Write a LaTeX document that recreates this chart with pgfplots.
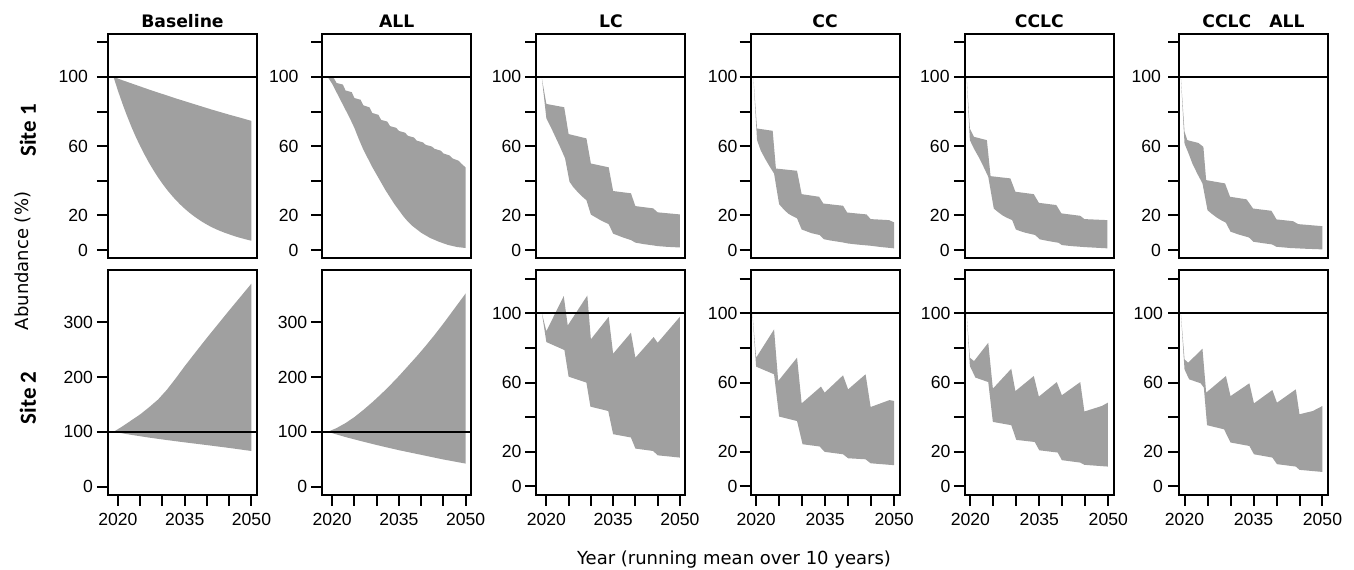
\documentclass[border=0pt]{standalone}
\usepackage{fontspec}
\setmainfont{Liberation Sans}
\newfontfamily\dejavu{DejaVu Sans}
\newfontfamily\carlito{Carlito}
\usepackage{pgfplots}
\pgfplotsset{compat=1.18}
\usepgfplotslibrary{groupplots,fillbetween}
\definecolor{band}{RGB}{160,160,160}

\pgfplotsset{
  panel/.style={
    scale only axis, width=74.5pt, height=112.2pt,
    axis line style={line width=1pt},
    tick style={black, line width=1pt},
    tick align=outside, major tick length=5.5pt,
    xtick pos=bottom, ytick pos=left,
    tick label style={font=\fontsize{8.8}{10}\selectfont},
    xtick={2020,2025,...,2050}, xticklabels={2020,,,2035,,,2050},
    ymin=-4.8, ymax=124.8,
    ytick={0,20,...,120}, yticklabels={0,20,,60,,100,},
    title style={font=\dejavu\bfseries\fontsize{8.6}{10}\selectfont,
      at={(0.5,1)}, anchor=base, yshift=-3pt, inner sep=0pt},
  },
  xa/.style={xmin=2017.76, xmax=2051.24},
  xb/.style={xmin=2018.8, xmax=2051.2},
  big/.style={ymin=-15, ymax=395, ytick={0,100,200,300}, yticklabels={0,100,200,300}},
  ylab/.style={yticklabel style={xshift=#1}},
  env/.style={draw=none, forget plot},
  hundred/.style={black, line width=1pt, forget plot},
}

\begin{document}
\begin{tikzpicture}
\begin{groupplot}[group style={group size=6 by 2, horizontal sep=32.6pt,
    vertical sep=6pt, group name=group}, panel]

% ---- Site 1 ----
\nextgroupplot[xa, title={Baseline}, xtick=\empty, ylab=-1pt]
\addplot[env, name path=u1] coordinates {(2019,100) (2021,98.1) (2023,96.3) (2025,94.5) (2027,92.7) (2029,91.0) (2031,89.3) (2033,87.6) (2035,86.0) (2037,84.4) (2039,82.8) (2041,81.2) (2043,79.7) (2045,78.2) (2047,76.8) (2050,74.6)};
\addplot[env, name path=l1] coordinates {(2019,100) (2020,92) (2021,84.6) (2022,77.7) (2023,71.3) (2024,65.4) (2025,60) (2026,55) (2027,50.3) (2028,46) (2029,42) (2030,38.3) (2031,34.9) (2032,31.8) (2033,28.9) (2034,26.3) (2035,23.9) (2036,21.7) (2037,19.7) (2038,17.9) (2039,16.2) (2040,14.7) (2041,13.3) (2042,12.1) (2043,11) (2044,10) (2045,9.1) (2046,8.2) (2047,7.4) (2048,6.7) (2049,6) (2050,5.4)};
\addplot[band] fill between[of=u1 and l1];
\addplot[hundred] coordinates {(2010,100) (2060,100)};

\nextgroupplot[xa, title={ALL}, xtick=\empty, ylab=-2.8pt]
\addplot[env, name path=u2] coordinates {(2019,100) (2020.4,99.2) (2021,96.5) (2022.4,95.6) (2023,92.2) (2024.4,91.2) (2025,87.8) (2026.4,86.8) (2027,83.6) (2028.4,82.4) (2029,79.2) (2030.4,78.1) (2031,75.2) (2032.4,74.2) (2033,71.6) (2034.4,70.6) (2035,68.8) (2036.4,67.8) (2037,66) (2038.4,65) (2039,63.2) (2040.4,62.2) (2041,60.8) (2042.4,59.8) (2043,58.5) (2044.4,57.4) (2045,55.8) (2046.4,54.6) (2047,53) (2048.4,51.6) (2049,50) (2050,47.7)};
\addplot[env, name path=l2] coordinates {(2019,100) (2020,96) (2021,91) (2022,86) (2023,81) (2024,76) (2025,70.5) (2026,64) (2027,58) (2028,53) (2029,48) (2030,43.5) (2031,39) (2032,34.5) (2033,30.5) (2034,26.5) (2035,23) (2036,19.5) (2037,16.5) (2038,14) (2039,12) (2040,10) (2041,8.5) (2042,7) (2044,4.8) (2046,3.0) (2048,1.8) (2050,1.2)};
\addplot[band] fill between[of=u2 and l2];
\addplot[hundred] coordinates {(2010,100) (2060,100)};

\nextgroupplot[xa, title={LC}, xtick=\empty, ylab=1.4pt]
\addplot[env, name path=u3] coordinates {(2019,99) (2020,84.4) (2024,82.5) (2025,67) (2029,64.5) (2030,50) (2034,47.8) (2035,34.1) (2039,32.8) (2040,25.4) (2044,24.1) (2045,21.8) (2050,20.6)};
\addplot[env, name path=l3] coordinates {(2019,99) (2020,76) (2021,71) (2022,65.5) (2023,60) (2024.2,53) (2025.2,39.5) (2026,36.5) (2027,33.6) (2028,31) (2029,28.8) (2030,20.5) (2031,19) (2032,17.5) (2033,16.2) (2034,15) (2035,9.5) (2036,8.5) (2037,7.5) (2038,6.6) (2039,5.8) (2040,4.3) (2042,3.4) (2044,2.7) (2045,2.3) (2047,1.9) (2050,1.5)};
\addplot[band] fill between[of=u3 and l3];
\addplot[hundred] coordinates {(2010,100) (2060,100)};

\nextgroupplot[xb, title={CC}, xtick=\empty, ylab=2.4pt]
\addplot[env, name path=u4] coordinates {(2019.4,100) (2020.2,70.2) (2023.6,68.9) (2024.3,47.1) (2028.9,45.8) (2029.9,32.3) (2033.7,30.8) (2034.6,26.9) (2038.9,25.6) (2039.8,21.7) (2044,20.6) (2044.9,17.9) (2048.9,17.3) (2050,16)};
\addplot[env, name path=l4] coordinates {(2019.4,100) (2020.2,63.5) (2021,57.5) (2022,52.5) (2023,48) (2023.9,44.2) (2025,26.5) (2026,23.5) (2027,21) (2028,19.5) (2028.9,18.3) (2029.9,11.9) (2031,10.8) (2032,9.8) (2033.8,8.7) (2034.7,6.3) (2036,5.6) (2038.9,4.4) (2040,3.8) (2042,3.2) (2044.9,2.5) (2047,1.8) (2050,1)};
\addplot[band] fill between[of=u4 and l4];
\addplot[hundred] coordinates {(2010,100) (2060,100)};

\nextgroupplot[xb, title={CCLC}, xtick=\empty, ylab=1.4pt]
\addplot[env, name path=u5] coordinates {(2019.2,100) (2019.9,70.2) (2020.8,65.4) (2023.6,63.5) (2024.4,42.7) (2028.7,41.4) (2029.8,33.7) (2033.8,32.3) (2034.9,27.3) (2038.7,26) (2039.8,21.2) (2043.9,19.8) (2044.8,17.9) (2049.8,17.3)};
\addplot[env, name path=l5] coordinates {(2019.2,100) (2019.9,63.5) (2020.8,58.5) (2021.8,53.8) (2022.8,48.5) (2023.9,42.3) (2025.1,24) (2026,22) (2027,20) (2028,18.6) (2029.1,17.3) (2029.9,11.9) (2031,10.8) (2032,10) (2034.1,8.7) (2035.1,6.2) (2037,5.2) (2039.2,4.2) (2039.9,2.9) (2042,2.3) (2045,1.7) (2049.8,1)};
\addplot[band] fill between[of=u5 and l5];
\addplot[hundred] coordinates {(2010,100) (2060,100)};

\nextgroupplot[xb, title={CCLC\hspace{9pt}ALL}, xtick=\empty]
\addplot[env, name path=u6] coordinates {(2019.2,100) (2020,68.3) (2020.6,63.5) (2023,61.9) (2024.1,59.6) (2024.7,40.4) (2028.8,38.5) (2029.9,30.8) (2033.5,29.3) (2034.9,24) (2038.9,22.7) (2040,17.7) (2043.6,16.7) (2044.7,15) (2050,13.8)};
\addplot[env, name path=l6] coordinates {(2019.2,100) (2020,61.5) (2021,55) (2021.7,50) (2022.8,44) (2023.9,38.5) (2025,23) (2026,20.8) (2027,18.8) (2028,17.2) (2029,15.8) (2030,10.6) (2031,9.7) (2032,8.8) (2034,7.3) (2035,4.8) (2037,4) (2039,3.3) (2040,1.9) (2043,1.2) (2046,0.8) (2050,0.4)};
\addplot[band] fill between[of=u6 and l6];
\addplot[hundred] coordinates {(2010,100) (2060,100)};

% ---- Site 2 ----
\nextgroupplot[xa, big, ylab=1.5pt]
\addplot[env, name path=u7] coordinates {(2019,100) (2021,110) (2023,121) (2025,132) (2027,145) (2029,159) (2031,177) (2033,198) (2035,220) (2037,241) (2040,272) (2045,322) (2050,371)};
\addplot[env, name path=l7] coordinates {(2019,100) (2023,94.5) (2027,89.5) (2031,85) (2035,80.8) (2040,75.8) (2045,70.6) (2050,65)};
\addplot[band] fill between[of=u7 and l7];
\addplot[hundred] coordinates {(2010,100) (2060,100)};

\nextgroupplot[xa, big, ylab=1.5pt]
\addplot[env, name path=u8] coordinates {(2019,100) (2021,107) (2023,116) (2025,127) (2027,140) (2029,154) (2031,169) (2033,185) (2035,202) (2037,220) (2039,238) (2041,257) (2043,277) (2045,298) (2047,320) (2050,353)};
\addplot[env, name path=l8] coordinates {(2019,100) (2023,90.5) (2027,82) (2031,74) (2035,66.5) (2040,58) (2045,49.5) (2050,42)};
\addplot[band] fill between[of=u8 and l8];
\addplot[hundred] coordinates {(2010,100) (2060,100)};

\nextgroupplot[xa, ylab=1.6pt]
\addplot[env, name path=u9] coordinates {(2019,100) (2020,89.7) (2023.9,110) (2024.8,93) (2029.2,110.3) (2030,85) (2034,98) (2035,76.7) (2039,88.8) (2040,74.4) (2044.1,86.3) (2045,83) (2050,98)};
\addplot[env, name path=l9] coordinates {(2019,100) (2020,83.4) (2024.05,78.8) (2025,63.4) (2029,60) (2029.9,46.1) (2033.9,43.6) (2035,30.2) (2039,28.3) (2040,21.9) (2044,20.5) (2045,18) (2050,16.7)};
\addplot[band] fill between[of=u9 and l9];
\addplot[hundred] coordinates {(2010,100) (2060,100)};

\nextgroupplot[xb, ylab=2.4pt]
\addplot[env, name path=u10] coordinates {(2019.2,100) (2020,74.4) (2023.9,90.7) (2024.8,60.9) (2028.9,74.4) (2029.9,48) (2034.1,57.7) (2034.9,54.2) (2038.9,64.2) (2040,56.1) (2043.8,64.8) (2044.9,45.9) (2049,49.9) (2050,49.4)};
\addplot[env, name path=l10] coordinates {(2019.2,100) (2020,69.2) (2023.9,64.8) (2025,40.4) (2028.9,37.8) (2030.1,24.4) (2033.8,23.1) (2034.9,20) (2038.9,18.6) (2040,16.3) (2043.8,15.7) (2044.9,13.4) (2050,12.3)};
\addplot[band] fill between[of=u10 and l10];
\addplot[hundred] coordinates {(2010,100) (2060,100)};

\nextgroupplot[xb, ylab=1.8pt]
\addplot[env, name path=u11] coordinates {(2019.2,100) (2019.9,74.4) (2020.8,72.4) (2023.9,83) (2024.9,56.5) (2028.9,68) (2029.8,55.1) (2033.8,63.8) (2034.9,51.9) (2038.8,60.3) (2039.9,52.7) (2043.9,60.3) (2044.8,43.3) (2048.6,46.5) (2049.9,48.4)};
\addplot[env, name path=l11] coordinates {(2019.2,100) (2019.9,69.6) (2021.1,62.9) (2023.9,60.3) (2024.9,37.3) (2028.9,35.4) (2030,26.9) (2034,25.7) (2035,20.9) (2039,19.6) (2039.9,15.2) (2043.9,13.8) (2044.8,12.5) (2049.9,11.5)};
\addplot[band] fill between[of=u11 and l11];
\addplot[hundred] coordinates {(2010,100) (2060,100)};

\nextgroupplot[xb, ylab=1pt]
\addplot[env, name path=u12] coordinates {(2019.2,100) (2020,73.4) (2020.8,71.5) (2023.9,79.6) (2024.7,54.2) (2029,63.8) (2030,52.2) (2034.1,59.6) (2035.1,48) (2039.1,55.7) (2040.1,48.4) (2044.2,56.1) (2045,41.7) (2047.9,43.6) (2050,46.5)};
\addplot[env, name path=l12] coordinates {(2019.2,100) (2020,67.6) (2021,61.9) (2023.5,59.6) (2024.2,57.1) (2024.9,35.4) (2028.6,33) (2030,25.4) (2034.1,23.4) (2035.1,18.6) (2039.1,16.7) (2040.1,12.9) (2044.2,11.5) (2045,9.6) (2050,8.4)};
\addplot[band] fill between[of=u12 and l12];
\addplot[hundred] coordinates {(2010,100) (2060,100)};
\end{groupplot}

\node[rotate=90, font=\carlito\bfseries\fontsize{11.5}{13}\selectfont]
  at ([shift={(-40pt,-48.25pt)}]group c1r1.north west) {Site 1};
\node[rotate=90, font=\carlito\bfseries\fontsize{11.5}{13}\selectfont]
  at ([shift={(-40pt,-63.75pt)}]group c1r2.north west) {Site 2};
\node[rotate=90, font=\dejavu\fontsize{9}{11}\selectfont]
  at ([shift={(-42.75pt,-113.5pt)}]group c1r1.north west) {Abundance (\%)};
\node[anchor=base, font=\dejavu\fontsize{9}{11}\selectfont]
  at ([shift={(313pt,-35pt)}]group c1r2.south west) {Year (running mean over 10 years)};

\pgfresetboundingbox
\path[use as bounding box] ([shift={(-54pt,17pt)}]group c1r1.north west)
  rectangle ([shift={(623pt,-37.5pt)}]group c1r2.south west);
\end{tikzpicture}
\end{document}
